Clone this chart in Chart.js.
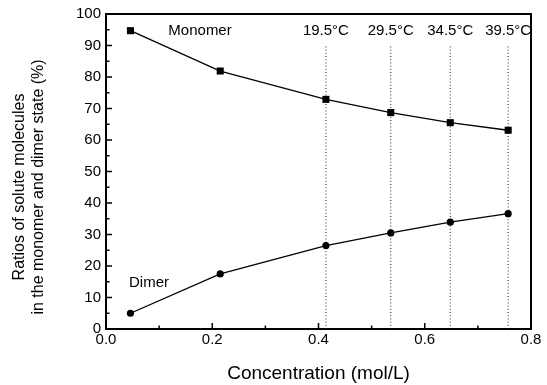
<!DOCTYPE html>
<html><head><meta charset="utf-8">
<script src="https://cdn.jsdelivr.net/npm/chart.js@4.4.1/dist/chart.umd.min.js"></script>
<style>html,body{margin:0;padding:0;background:#fff}#wrap{width:547px;height:385px;position:relative}</style>
</head><body><div id="wrap"><canvas id="c"></canvas></div>
<script>
const concentration = [0.046, 0.215, 0.414, 0.536, 0.648, 0.757];
const monomerRatio = [94.7, 81.9, 72.9, 68.7, 65.5, 63.1];
const dimerRatio = [5.0, 17.5, 26.5, 30.5, 33.9, 36.6];
const temperatureX = [0.414, 0.536, 0.648, 0.757];
const temperatureLabels = ['19.5°C', '29.5°C', '34.5°C', '39.5°C'];
const dottedTop = 90;
const xTicks = [0, 0.2, 0.4, 0.6, 0.8];
const yTicks = [0, 10, 20, 30, 40, 50, 60, 70, 80, 90, 100];
const seriesLabels = ['Monomer', 'Dimer'];
const xTitle = 'Concentration (mol/L)';
const yTitle = ['Ratios of solute molecules', 'in the monomer and dimer state (%)'];

const FONT = "'Liberation Sans', Arial, Helvetica, sans-serif";

const toPts = (xs, ys) => xs.map((x, i) => ({x: x, y: ys[i]}));

const datasets = [
  {label: seriesLabels[0], data: toPts(concentration, monomerRatio), showLine: true,
   borderColor: '#000', backgroundColor: '#000', borderWidth: 1.3, pointStyle: 'rect',
   pointRadius: 5, pointBorderWidth: 0, order: 0},
  {label: seriesLabels[1], data: toPts(concentration, dimerRatio), showLine: true,
   borderColor: '#000', backgroundColor: '#000', borderWidth: 1.3, pointStyle: 'circle',
   pointRadius: 3.6, pointBorderWidth: 0, order: 0}
];
temperatureX.forEach(function (tx) {
  datasets.push({label: '', data: [{x: tx, y: 0}, {x: tx, y: dottedTop}], showLine: true,
    borderColor: '#222', borderWidth: 1, borderDash: [1, 2.2], pointRadius: 0, order: 10});
});

const decor = {
  id: 'decor',
  afterDatasetsDraw(chart) {
    const {ctx, chartArea: a, scales: {x, y}} = chart;
    ctx.save();
    ctx.strokeStyle = '#000';
    ctx.lineWidth = 2;
    ctx.beginPath();
    ctx.moveTo(a.left - 1, a.top);
    ctx.lineTo(a.right, a.top);
    ctx.lineTo(a.right, a.bottom + 1);
    ctx.stroke();
    // inward ticks
    ctx.lineWidth = 1.5;
    ctx.beginPath();
    xTicks.forEach(function (v, i) {
      const px = x.getPixelForValue(v);
      ctx.moveTo(px, a.bottom); ctx.lineTo(px, a.bottom - 6);
      if (i < xTicks.length - 1) {
        const pm = x.getPixelForValue((v + xTicks[i + 1]) / 2);
        ctx.moveTo(pm, a.bottom); ctx.lineTo(pm, a.bottom - 3.5);
      }
    });
    yTicks.forEach(function (v, i) {
      const py = y.getPixelForValue(v);
      ctx.moveTo(a.left, py); ctx.lineTo(a.left + 6, py);
      if (i < yTicks.length - 1) {
        const pm = y.getPixelForValue((v + yTicks[i + 1]) / 2);
        ctx.moveTo(a.left, pm); ctx.lineTo(a.left + 3.5, pm);
      }
    });
    ctx.stroke();
    // annotations
    ctx.fillStyle = '#000';
    ctx.font = '15px ' + FONT;
    ctx.textAlign = 'center';
    ctx.textBaseline = 'middle';
    ctx.fillText(seriesLabels[0], x.getPixelForValue(0.177), y.getPixelForValue(94.6));
    ctx.fillText(seriesLabels[1], x.getPixelForValue(0.081), y.getPixelForValue(14.6));
    temperatureLabels.forEach(function (t, i) {
      ctx.fillText(t, x.getPixelForValue(temperatureX[i]), y.getPixelForValue(94.6));
    });
    // y title
    ctx.font = '16px ' + FONT;
    ctx.translate(0, 0);
    [20, 39].forEach(function (cx, i) {
      ctx.save();
      ctx.translate(cx, 187);
      ctx.rotate(-Math.PI / 2);
      ctx.fillText(yTitle[i], 0, 0);
      ctx.restore();
    });
    ctx.restore();
  }
};

new Chart(document.getElementById('c'), {
  type: 'scatter',
  data: {datasets: datasets},
  plugins: [decor],
  options: {
    responsive: true,
    maintainAspectRatio: false,
    animation: false,
    layout: {padding: {left: 0, top: 14, right: 16, bottom: 0}},
    plugins: {legend: {display: false}, tooltip: {enabled: false}},
    scales: {
      x: {
        type: 'linear', min: 0, max: 0.8,
        afterFit: function (s) { s.height = 56; },
        afterBuildTicks: function (s) { s.ticks = xTicks.map(function (v) { return {value: v}; }); },
        ticks: {padding: 2, color: '#000', font: {family: FONT, size: 15},
                callback: function (v) { return Number(v).toFixed(1); }},
        grid: {display: true, drawOnChartArea: false, drawTicks: false},
        border: {display: true, color: '#000', width: 2},
        title: {display: true, text: xTitle, color: '#000', font: {family: FONT, size: 19, lineHeight: 1},
                padding: {top: 0, bottom: 1.5}}
      },
      y: {
        type: 'linear', min: 0, max: 100,
        afterFit: function (s) { s.width = 106; },
        afterBuildTicks: function (s) { s.ticks = yTicks.map(function (v) { return {value: v}; }); },
        ticks: {padding: 5, color: '#000', font: {family: FONT, size: 15}},
        grid: {display: true, drawOnChartArea: false, drawTicks: false},
        border: {display: true, color: '#000', width: 2}
      }
    }
  }
});
</script>
</body></html>
